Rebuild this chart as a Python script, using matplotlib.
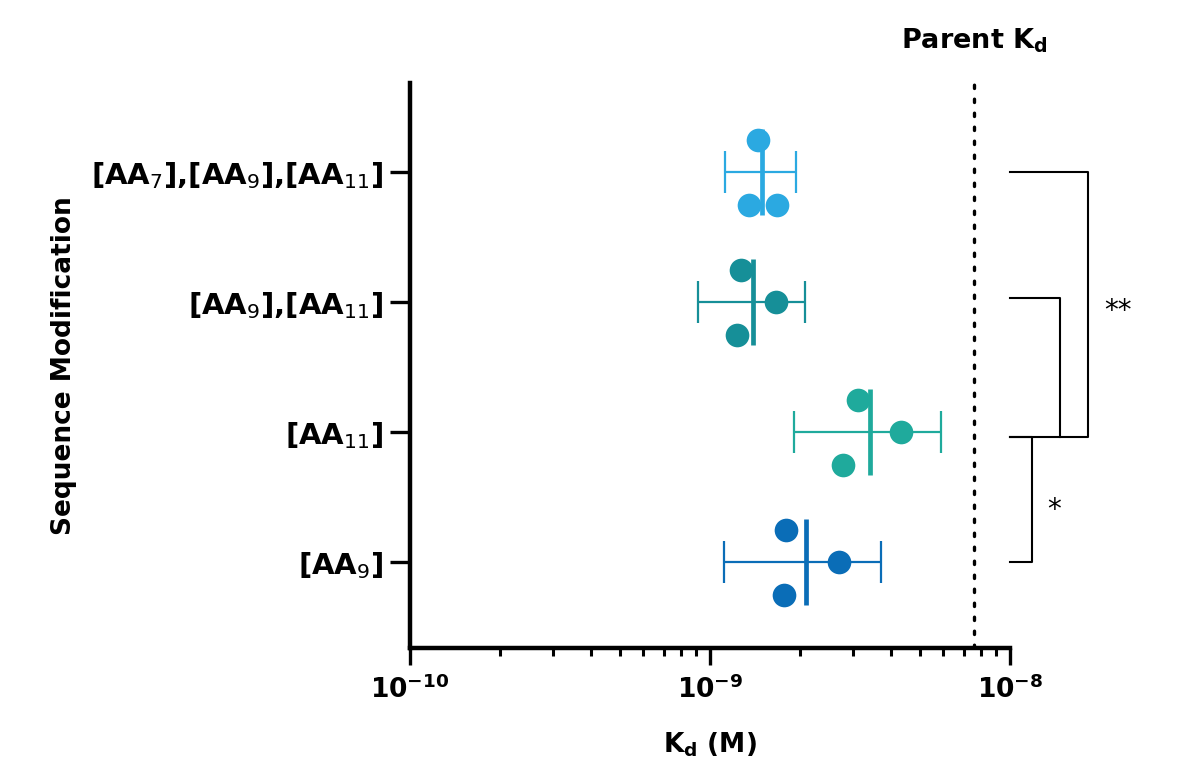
import numpy as np
import matplotlib
matplotlib.use("Agg")
import matplotlib.pyplot as plt
from matplotlib.ticker import LogLocator, FuncFormatter, NullFormatter

# categories, bottom to top
labels = [r"[AA$_\mathrm{9}$]", r"[AA$_\mathrm{11}$]",
          r"[AA$_\mathrm{9}$],[AA$_\mathrm{11}$]",
          r"[AA$_\mathrm{7}$],[AA$_\mathrm{9}$],[AA$_\mathrm{11}$]"]
colors = ["#0A6DB7", "#1FAA9C", "#168F98", "#2BA9E1"]

# individual Kd replicates (M)
kd_aa9 = [1.79e-9, 2.69e-9, 1.77e-9]
kd_aa11 = [3.11e-9, 4.33e-9, 2.78e-9]
kd_aa9_aa11 = [1.27e-9, 1.66e-9, 1.23e-9]
kd_aa7_aa9_aa11 = [1.44e-9, 1.35e-9, 1.67e-9]
kd_points = [kd_aa9, kd_aa11, kd_aa9_aa11, kd_aa7_aa9_aa11]

# error bar limits (M)
err_low = [1.11e-9, 1.91e-9, 0.91e-9, 1.12e-9]
err_high = [3.71e-9, 5.88e-9, 2.07e-9, 1.94e-9]

parent_kd = 7.6e-9

# vertical offsets of the replicate dots within a row
jitter = [0.25, 0.0, -0.25]
jitter_top = [0.25, -0.25, -0.25]

plt.rcParams["font.family"] = "DejaVu Sans"
plt.rcParams["font.weight"] = "bold"
plt.rcParams["mathtext.fontset"] = "custom"
plt.rcParams["mathtext.rm"] = "DejaVu Sans:normal"
plt.rcParams["mathtext.bf"] = "DejaVu Sans:bold"
plt.rcParams["mathtext.default"] = "rm"

fig = plt.figure(figsize=(11.86, 7.58), dpi=100)
ax = fig.add_axes([0.3457, 0.1451, 0.5059, 0.7454])

for i, pts in enumerate(kd_points):
    offs = jitter_top if i == 3 else jitter
    mean = np.mean(pts)
    ax.errorbar(mean, i, xerr=[[mean - err_low[i]], [err_high[i] - mean]],
                fmt="none", ecolor=colors[i], elinewidth=1.6,
                capsize=15, capthick=1.6, zorder=2)
    ax.plot([mean, mean], [i - 0.33, i + 0.33], color=colors[i],
            lw=3.4, solid_capstyle="butt", zorder=2)
    ax.scatter(pts, [i + o for o in offs], s=290, color=colors[i],
               linewidths=0, zorder=3)

ax.axvline(parent_kd, color="black", lw=2.4, linestyle=(0, (1, 3.2)),
           dash_capstyle="round", zorder=1)
ax.text(parent_kd, 1.05, r"Parent K$_\mathbf{d}$", transform=ax.get_xaxis_transform(),
        ha="center", va="bottom", fontsize=19.5, fontweight="bold")

ax.set_xscale("log")
ax.set_xlim(1e-10, 1e-8)
ax.set_ylim(-0.6615, 3.685)

ax.xaxis.set_major_locator(LogLocator(base=10, numticks=5))
ax.xaxis.set_minor_locator(LogLocator(base=10, subs=np.arange(2, 10), numticks=20))
ax.xaxis.set_major_formatter(FuncFormatter(
    lambda v, p: r"$\mathbf{10^{%d}}$" % int(round(np.log10(v)))))
ax.xaxis.set_minor_formatter(NullFormatter())

ax.set_yticks(range(len(labels)))
ax.set_yticklabels(labels, fontsize=21, fontweight="bold")

for side in ["top", "right"]:
    ax.spines[side].set_visible(False)
for side in ["left", "bottom"]:
    ax.spines[side].set_linewidth(3.2)

ax.tick_params(axis="y", length=14.5, width=2.4, pad=5)
ax.tick_params(axis="x", which="major", length=12, width=2.4, pad=8,
               labelsize=19)
ax.tick_params(axis="x", which="minor", length=6, width=2.2)

ax.set_xlabel(r"K$_\mathbf{d}$ (M)", fontsize=19, fontweight="bold", labelpad=19)
ax.set_ylabel("Sequence Modification", fontsize=19, fontweight="bold", labelpad=10)

# significance brackets
tr = ax.get_yaxis_transform()
br = dict(color="black", lw=1.5, transform=tr, clip_on=False)
ax.plot([1.0, 1.13, 1.13, 1.0], [3.0, 3.0, 0.96, 0.96], **br)
ax.plot([1.0, 1.083, 1.083], [2.03, 2.03, 0.96], **br)
ax.plot([1.0, 1.037, 1.037, 1.0], [0.96, 0.96, 0.0, 0.0], **br)
ax.text(1.18, 1.93, "**", transform=tr, ha="center", va="center",
        fontsize=20, fontweight="normal", family="DejaVu Sans")
ax.text(1.073, 0.40, "*", transform=tr, ha="center", va="center",
        fontsize=20, fontweight="normal", family="DejaVu Sans")

fig.savefig("out.png", dpi=100)
